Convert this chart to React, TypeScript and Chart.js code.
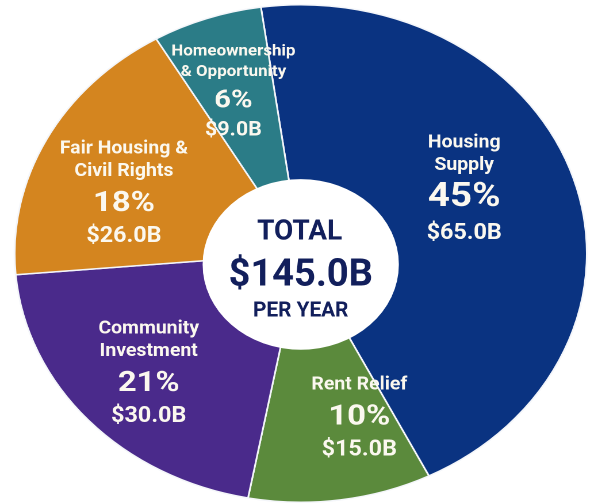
import React, { useEffect, useRef } from "react";
import { Chart, registerables } from "chart.js";

Chart.register(...registerables);

// ---- data ----
const categories = [
  "Housing Supply",
  "Rent Relief",
  "Community Investment",
  "Fair Housing & Civil Rights",
  "Homeownership & Opportunity",
];
const nameLines = [
  ["Housing", "Supply"],
  ["Rent Relief"],
  ["Community", "Investment"],
  ["Fair Housing &", "Civil Rights"],
  ["Homeownership", "& Opportunity"],
];
const fundingBillions = [65, 15, 30, 26, 9];
const centerTitle = "TOTAL";
const centerSubtitle = "PER YEAR";

// ---- style ----
const sliceColors = ["#0a3381", "#5b8a3c", "#4a2a8b", "#d4851f", "#2b7c87"];
const labelColor = "#fbf8ef";
const centerColor = "#121f5c";
const STRETCH = 1.15; // horizontal stretch of the reference picture
const FONT = "Roboto, 'Noto Sans', sans-serif";
// label placement (style): angular nudge in degrees and radius as fraction of outer radius
const labelAngleNudge = [-7.8, -9.4, 0.4, -5.3, -0.5];
const labelRadiusFrac = [0.631, 0.685, 0.712, 0.667, 0.699];

const total = fundingBillions.reduce((a, b) => a + b, 0);

function drawText(ctx: CanvasRenderingContext2D, text: string, x: number, y: number, font: string, color: string, sx = 1) {
  ctx.save();
  ctx.translate(x, y);
  ctx.scale(sx / STRETCH, 1);
  ctx.font = font;
  ctx.fillStyle = color;
  ctx.textAlign = "center";
  ctx.textBaseline = "alphabetic";
  ctx.fillText(text, 0, 0);
  ctx.restore();
}

const overlayPlugin = {
  id: "overlay",
  afterDatasetsDraw(chart: any) {
    const ctx: CanvasRenderingContext2D = chart.ctx;
    const meta = chart.getDatasetMeta(0);
    if (!meta.data.length) return;
    const first = meta.data[0].getProps(["x", "y", "outerRadius"], true);
    const cx = first.x;
    const cy = first.y;
    const R = first.outerRadius;

    // center disc
    const holeR = R * 0.343;
    const holeY = cy + R * 0.044;
    ctx.save();
    ctx.fillStyle = "#ffffff";
    ctx.beginPath();
    ctx.arc(cx, holeY, holeR, 0, Math.PI * 2);
    ctx.fill();
    ctx.restore();

    drawText(ctx, centerTitle, cx - 1, holeY - 25, `bold 28px ${FONT}`, centerColor, 1.0);
    drawText(ctx, `$${total.toFixed(1)}B`, cx, holeY + 21, `bold 38px ${FONT}`, centerColor, 1.0);
    drawText(ctx, centerSubtitle, cx, holeY + 52, `bold 21px ${FONT}`, centerColor, 0.99);

    // slice labels
    meta.data.forEach((arc: any, i: number) => {
      const p = arc.getProps(["startAngle", "endAngle"], true);
      const share = fundingBillions[i] / total;
      const mid = (p.startAngle + p.endAngle) / 2 + (labelAngleNudge[i] * Math.PI) / 180;
      const r = R * labelRadiusFrac[i];
      const ax = cx + Math.cos(mid) * r;
      const ay = cy + Math.sin(mid) * r;
      const small = share < 0.08;
      const big = share > 0.3;
      const s = small ? 0.87 : 1;
      const sp = small ? 0.9 : 1;
      const names = nameLines[i];
      const nameGap = 22.5 * sp;
      const toPct = (big ? 36 : 35) * sp;
      const toAmt = (big ? 33 : 31) * sp;
      const cap = 13 * s;
      const height = cap + (names.length - 1) * nameGap + toPct + toAmt;
      let y = ay - height / 2 + cap;
      names.forEach((n) => {
        drawText(ctx, n, ax, y, `bold ${18 * s}px ${FONT}`, labelColor, 1.08);
        y += nameGap;
      });
      y += toPct - nameGap;
      const pct = Math.round(share * 100);
      const pctSize = big ? 33 : small ? 25 : 28;
      drawText(ctx, `${pct}%`, ax, y, `bold ${pctSize}px ${FONT}`, labelColor, 1.17);
      y += toAmt;
      drawText(ctx, `$${fundingBillions[i].toFixed(1)}B`, ax, y, `bold ${22 * (small ? 0.92 : 1)}px ${FONT}`, labelColor, 1.06);
    });
  },
};

export default function App() {
  const canvasRef = useRef<HTMLCanvasElement | null>(null);

  useEffect(() => {
    if (!canvasRef.current) return;
    const chart = new Chart(canvasRef.current, {
      type: "pie",
      data: {
        labels: categories,
        datasets: [
          {
            data: fundingBillions,
            backgroundColor: sliceColors,
            borderColor: "#f4f6fa",
            borderWidth: 1.5,
            hoverBorderWidth: 1.5,
            hoverOffset: 0,
            offset: 0,
          },
        ],
      },
      options: {
        responsive: false,
        animation: false,
        devicePixelRatio: 2,
        rotation: -8,
        events: [],
        layout: { padding: 0 },
        plugins: {
          legend: { display: false },
          tooltip: { enabled: false },
          title: { display: false },
        },
      },
      plugins: [overlayPlugin],
    });
    return () => chart.destroy();
  }, []);

  const size = 499;
  const centerX = 301 / STRETCH;
  return (
    <div
      style={{
        position: "fixed",
        left: 0,
        top: 0,
        width: 596,
        height: 504,
        overflow: "hidden",
        background: "#ffffff",
      }}
    >
      <div
        style={{
          position: "absolute",
          left: 0,
          top: 0,
          width: 596 / STRETCH,
          height: 504,
          transform: `scaleX(${STRETCH})`,
          transformOrigin: "0 0",
        }}
      >
        <canvas
          ref={canvasRef}
          width={size}
          height={size}
          style={{ position: "absolute", left: centerX - size / 2, top: 4, width: size, height: size }}
        />
      </div>
    </div>
  );
}
